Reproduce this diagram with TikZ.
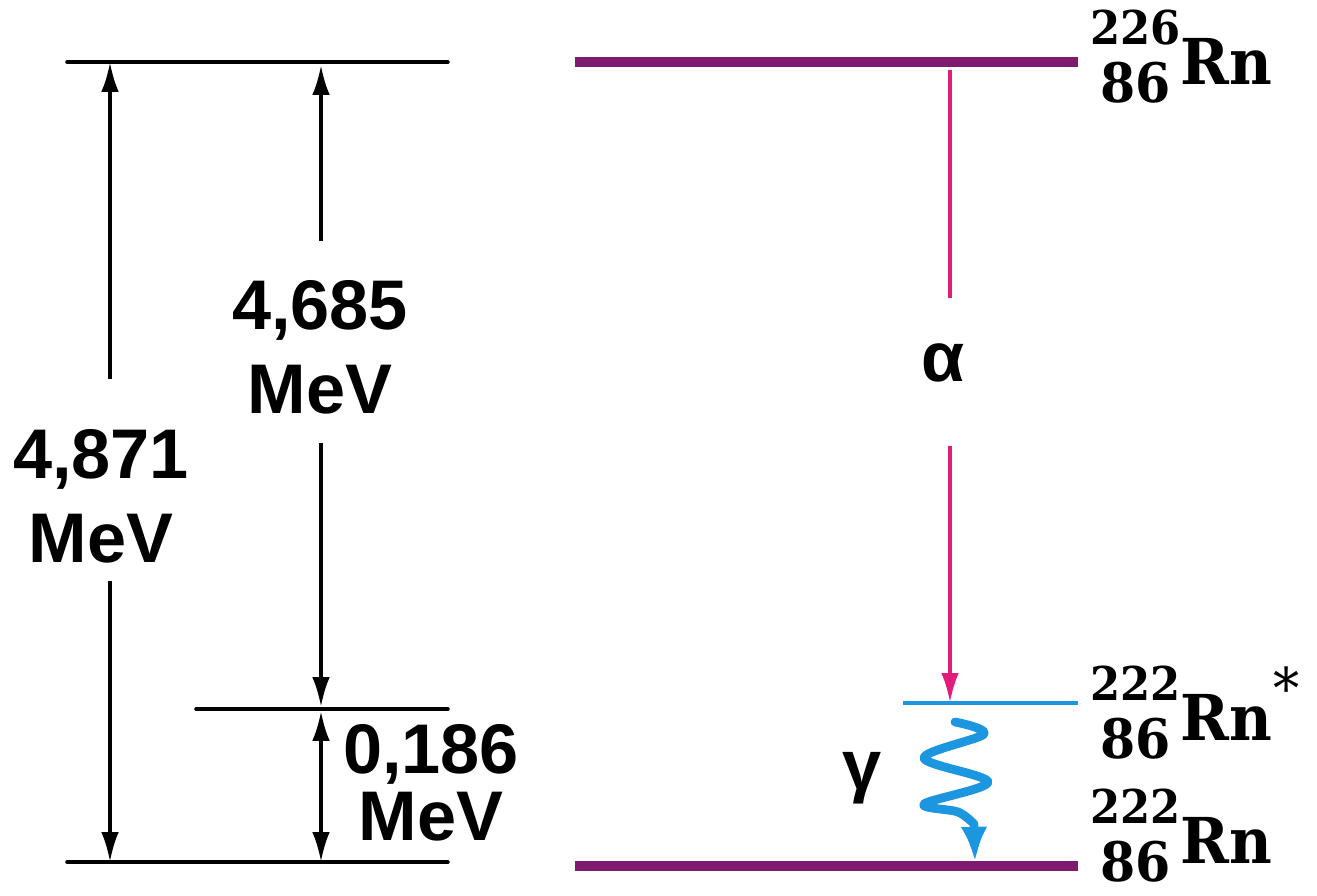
\documentclass[tikz,border=0pt]{standalone}
\usepackage{fontspec}
\setmainfont{Liberation Sans}
\newfontfamily\nucfont[FakeStretch=0.93]{DejaVu Serif}
\usepackage{tikz}
\usetikzlibrary{arrows.meta,calc}
\definecolor{levpurple}{HTML}{7E1A70}
\definecolor{gamblue}{HTML}{1B96DF}
\definecolor{alphapink}{HTML}{E31B7B}

\begin{document}
\begin{tikzpicture}[x=0.02cm,y=-0.02cm,>={Latex[length=17pt,width=10pt]},
  lev/.style={line width=2pt,line cap=round},
  dim/.style={line width=2pt},
  big/.style={font=\fontsize{40}{48}\selectfont\bfseries,inner sep=0pt,align=center},
  nuc/.style={font=\nucfont\bfseries\fontsize{36}{38}\selectfont,inner sep=0pt}]
\useasboundingbox (0,0) rectangle (1317,895);
% energy scale (left)
\draw[lev] (67,62) -- (448,62);
\draw[lev] (196,709) -- (448,709);
\draw[lev] (67,862) -- (448,862);
\coordinate (a1t) at (110,62); \coordinate (a1b) at (110,862);
\coordinate (a2t) at (321,65); \coordinate (a2m) at (321,707);
\coordinate (a3m) at (321,711); \coordinate (a3b) at (321,862);
\node[big] (q4871) at (101,496) {4,871\\MeV};
\node[big] (q4685) at (320,347) {4,685\\MeV};
\node[big,font=\fontsize{40}{38}\selectfont\bfseries] (q0186) at (431,783) {0,186\\MeV};
\draw[dim,->,shorten <=28pt] (q4871.north -| a1t) -- (a1t);
\draw[dim,->,shorten <=10pt] (q4871.south -| a1b) -- (a1b);
\draw[dim,->,shorten <=22pt] (q4685.north -| a2t) -- (a2t);
\draw[dim,->,shorten <=16pt] (q4685.south -| a2m) -- (a2m);
\draw[dim,<->] (a3m) -- (a3b);
% decay scheme (right)
\draw[levpurple,line width=5.5pt] (575,62) -- (1078,62);
\draw[levpurple,line width=5.5pt] (575,866) -- (1078,866);
\draw[gamblue,line width=2.8pt] (903,703) -- (1078,703);
\coordinate (aStart) at (950,70); \coordinate (aEnd) at (950,703);
\node[big] (alpha) at (943,363) {α};
\draw[alphapink,dim,line width=2.3pt,shorten <=26pt] (alpha.north -| aStart) -- (aStart);
\draw[alphapink,dim,line width=2.3pt,->,shorten <=36pt] (alpha.south -| aEnd) -- (aEnd);
\node[big] (gamma) at (862,778) {γ};
\coordinate (gStart) at (955,722); \coordinate (gEnd) at (975,862);
\draw[gamblue,line width=5pt,line cap=round,line join=round,-{Latex[length=20pt,width=15pt]}]
  plot[smooth,tension=0.55] coordinates {(gStart) (984,734) (924,758) (988,782) (924,804) (958,812) (974,824)} -- (gEnd);
\foreach \nm/\bl/\A in {rnTop/85/226,rnExc/740/222,rnGnd/863/222} {
  \node[nuc,anchor=base west] (\nm) at (1180,\bl) {Rn};
  \node[nuc,font=\nucfont\bfseries\fontsize{31}{32}\selectfont,anchor=base east] (\nm Z) at ($(\nm.base west)+(-9,18)$) {86};
  \node[nuc,font=\nucfont\bfseries\fontsize{26.5}{28}\selectfont,anchor=base east] (\nm A) at ($(\nm.base west)+(1,-40)$) {\A};
}
\node[font=\nucfont\fontsize{32}{32}\selectfont,inner sep=0pt] (star) at (1287,688) {*};
\end{tikzpicture}
\end{document}
